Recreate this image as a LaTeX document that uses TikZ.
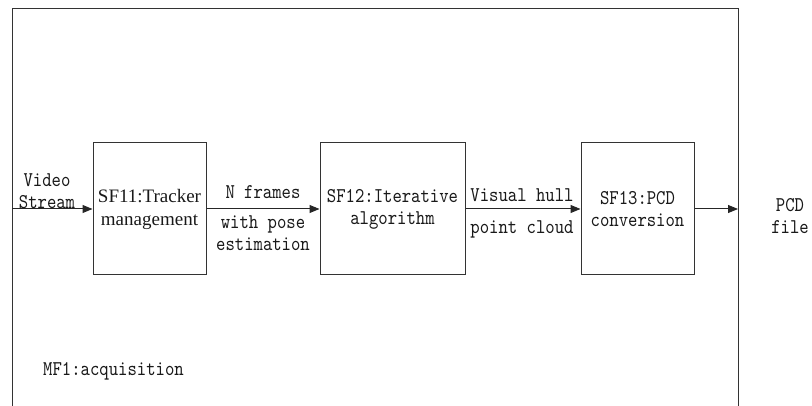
\documentclass[tikz,border=0pt]{standalone}
\usepackage{fontspec}
\setmainfont{Liberation Serif}
\setmonofont{lmmono10-regular.otf}[FakeStretch=0.85]
\usepackage{tikz}
\usetikzlibrary{arrows.meta}

\tikzset{
  fbox/.style={draw=black!80, line width=1pt, minimum height=132pt, align=center, inner sep=0pt},
  lbl/.style={font=\ttfamily\fontsize{21}{22}\selectfont, align=center, inner sep=0pt, text=black!90},
  flow/.style={-{Triangle[length=10pt,width=8pt]}, line width=1pt, draw=black!85},
}

\begin{document}
\begin{tikzpicture}[x=1pt,y=-1pt]
\useasboundingbox (0,0) rectangle (812,406);

% outer frame, open at the bottom
\draw[line width=1pt, black!80] (12,406) -- (12,9) -- (738,9) -- (738,406);

% sub-functions
\node[fbox, minimum width=113pt, text=black!90, font=\fontsize{19}{23}\selectfont] (sf11) at (149.5,209) {SF11:Tracker\\management};
\node[fbox, lbl, minimum width=145pt, minimum height=132pt] (sf12) at (392.5,209) {SF12:Iterative\\algorithm};
\node[fbox, lbl, minimum width=113pt, minimum height=132pt] (sf13) at (637.5,209) {SF13:PCD\\conversion};

\coordinate (in) at (12,209);
\coordinate (out) at (738,209);

\draw[flow] (in) -- (sf11);
\draw[flow] (sf11) -- (sf12);
\draw[flow] (sf12) -- (sf13);
\draw[flow] (sf13) -- (out);

% flow labels
\node[lbl] (vid) at (47,191) {Video\\Stream};
\node[lbl] (nfr) at (263,192) {N frames};
\node[lbl] (pose) at (263,233) {with pose\\estimation};
\node[lbl] (vh) at (522,195) {Visual hull};
\node[lbl] (pc) at (522,229) {point cloud};
\node[lbl] (pcd) at (790,216) {PCD\\file};

\node[lbl, anchor=west] (mf1) at (43,371) {MF1:acquisition};
\end{tikzpicture}
\end{document}
